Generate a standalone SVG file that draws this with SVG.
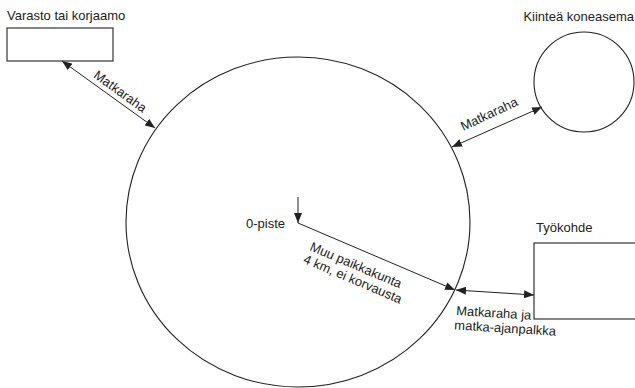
<svg xmlns="http://www.w3.org/2000/svg" width="635" height="388" viewBox="0 0 635 388">
<defs>
<style>
.shape{fill:#fff;stroke:#222;stroke-width:1.1}
.line{fill:none;stroke:#222;stroke-width:1}
.lbl{font-family:"Liberation Sans",Arial,sans-serif;font-size:13px;fill:#222}
</style>
<marker id="ah" viewBox="0 0 10 8" refX="10" refY="4" markerWidth="10" markerHeight="8" markerUnits="userSpaceOnUse" orient="auto-start-reverse">
<path d="M0,0 L10,4 L0,8 z" fill="#222"/>
</marker>
</defs>
<rect width="635" height="388" fill="#fff"/>
<g id="paikkakunta">
<ellipse class="shape" cx="298" cy="222" rx="172" ry="165"/>
</g>
<g id="varasto">
<rect class="shape" x="7" y="28" width="106" height="33"/>
<text class="lbl" x="7" y="20">Varasto tai korjaamo</text>
</g>
<g id="kiintea">
<circle class="shape" cx="584" cy="82" r="50"/>
<text class="lbl" x="634" y="21" text-anchor="end">Kiinteä koneasema</text>
</g>
<g id="tyokohde">
<rect class="shape" x="534" y="243" width="110" height="76"/>
<text class="lbl" x="536" y="232">Työkohde</text>
</g>
<g id="opiste">
<text class="lbl" x="246" y="228">0-piste</text>
</g>
<g id="connectors">
<line class="line" x1="62" y1="61" x2="155" y2="128" marker-start="url(#ah)" marker-end="url(#ah)"/>
<text class="lbl" text-anchor="middle" transform="translate(117.7,95) rotate(36)">Matkaraha</text>
<line class="line" x1="452" y1="147" x2="542" y2="107" marker-start="url(#ah)" marker-end="url(#ah)"/>
<text class="lbl" text-anchor="middle" transform="translate(491,118) rotate(-25)">Matkaraha</text>
<line class="line" x1="298" y1="197" x2="298" y2="223" marker-end="url(#ah)"/>
<line class="line" x1="298" y1="223" x2="455" y2="290" marker-end="url(#ah)"/>
<g transform="translate(309,250) rotate(23)">
<text class="lbl" x="0" y="0">Muu paikkakunta</text>
<text class="lbl" x="-1" y="14">4 km, ei korvausta</text>
</g>
<line class="line" x1="456" y1="290" x2="534" y2="295" marker-start="url(#ah)" marker-end="url(#ah)"/>
<g transform="translate(456,315) rotate(3.5)">
<text class="lbl" x="0" y="0">Matkaraha ja</text>
<text class="lbl" x="-1" y="14.5">matka-ajanpalkka</text>
</g>
</g>
</svg>
